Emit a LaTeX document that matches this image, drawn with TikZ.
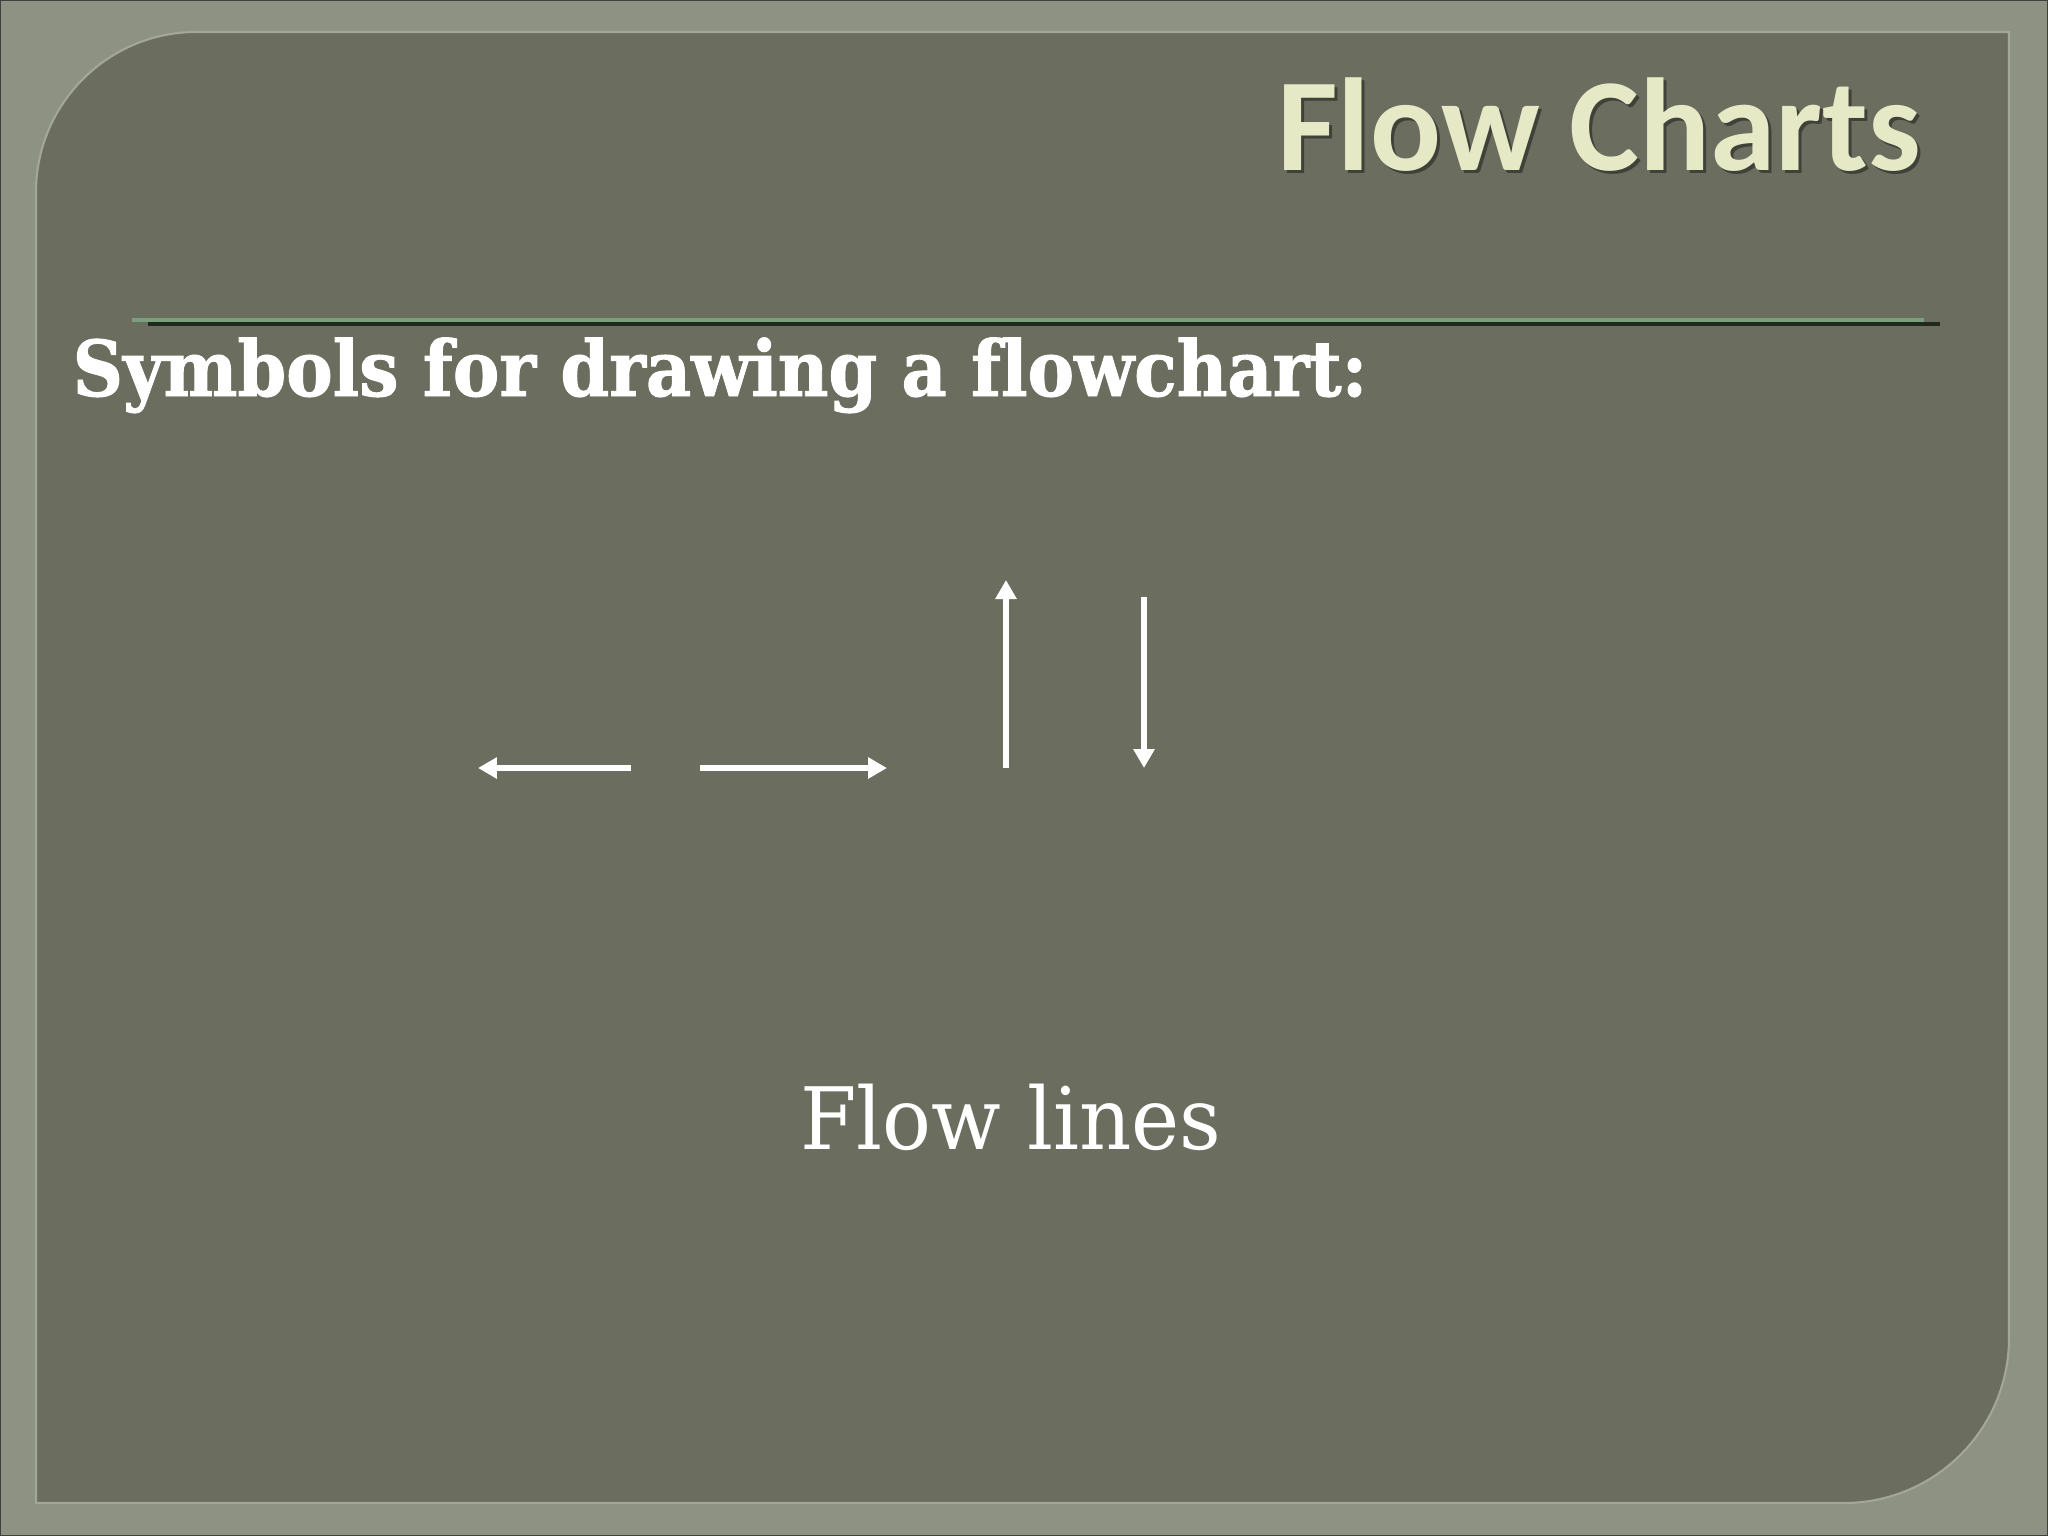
\documentclass[tikz,border=0pt]{standalone}
\usepackage{fontspec}
\usetikzlibrary{calc}
\usetikzlibrary{arrows.meta}
\usepackage{xcolor}
\newfontfamily\headfont{Carlito}
\newfontfamily\slabfont[FakeStretch=0.944]{DejaVu Serif}
\newfontfamily\slabboldfont[FakeStretch=0.906, FakeBold=1.2, Ligatures=NoCommon]{DejaVu Serif Bold}
\definecolor{framegray}{HTML}{8E9282}
\definecolor{panelgray}{HTML}{6B6D5F}
\definecolor{paneledge}{HTML}{A3A795}
\definecolor{titlecream}{HTML}{E6E9C6}
\definecolor{rulegreen}{HTML}{7C9F80}
\definecolor{ruledark}{HTML}{1F2A1C}

\begin{document}
\begin{tikzpicture}[x=0.01cm, y=-0.01cm,
  flowline/.style={white, line width=1.85pt, -{Triangle[length=5.4pt, width=5.8pt]}},
  heading/.style={font=\headfont\bfseries\fontsize{37.6}{40}\selectfont, inner sep=0, anchor=base east},
  slab/.style={text=white, inner sep=0}]
\useasboundingbox (0,0) rectangle (2048,1536);
\fill[framegray] (0,0) rectangle (2048,1536);
\draw[black!75, line width=0.5pt] (0,0) rectangle (2048,1536);
\filldraw[fill=panelgray, draw=paneledge, line width=0.6pt] (36,192) .. controls (36,104) and (108,32) .. (196,32) -- (2009,32) -- (2009,1338) .. controls (2009,1429) and (1935,1503) .. (1844,1503) -- (36,1503) -- cycle;
\draw[ruledark, line width=0.9pt] (148,324) -- (1940,324);
\draw[rulegreen, line width=1.1pt] (132,320) -- (1924,320);
\node[heading, text=black, opacity=.4] (titleshadow) at (1925,173) {Flow Charts};
\node[heading, text=titlecream] (title) at (1922,170) {Flow Charts};
\node[slab, anchor=base west, font=\slabboldfont\fontsize{21.9}{24}\selectfont] (symbols) at (72,396) {Symbols for drawing a flowchart:};
\node[slab, anchor=base, font=\slabfont\fontsize{24.5}{27}\selectfont] (flowlabel) at (1011,1149) {Flow lines};
\coordinate (leftfrom) at (631,768);
\coordinate (leftto) at (478,768);
\coordinate (rightfrom) at (700,768);
\coordinate (rightto) at (887,768);
\coordinate (upfrom) at (1006,768);
\coordinate (upto) at (1006,580);
\coordinate (downfrom) at (1144,597);
\coordinate (downto) at (1144,768);
\foreach \a in {left,right,up,down} {
\draw[flowline] (\a from) -- (\a to);
}
\end{tikzpicture}
\end{document}
